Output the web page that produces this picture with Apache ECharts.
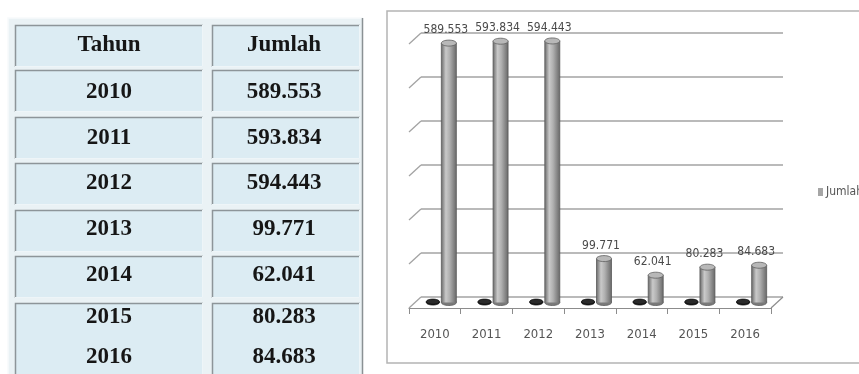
<!DOCTYPE html>
<html>
<head>
<meta charset="utf-8">
<script src="https://cdn.jsdelivr.net/npm/echarts@6/dist/echarts.min.js"></script>
<style>
  html, body { margin: 0; padding: 0; background: #ffffff; }
  #chart { width: 859px; height: 374px; }
</style>
</head>
<body>
<div id="chart"></div>
<script>
// ---- data ----
const tableHeaders = ['Tahun', 'Jumlah'];
const years = ['2010', '2011', '2012', '2013', '2014', '2015', '2016'];
const tahunValues = [2010, 2011, 2012, 2013, 2014, 2015, 2016];
const jumlah = [589553, 593834, 594443, 99771, 62041, 80283, 84683];
const yTicks = [0, 100000, 200000, 300000, 400000, 500000, 600000];
const seriesName = 'Jumlah';

function fmt(v) { return String(v).replace(/\B(?=(\d{3})+(?!\d))/g, '.'); }

const chart = echarts.init(document.getElementById('chart'), null, { renderer: 'canvas' });

// ---- table (built from the arrays) ----
const colX = [15, 212], colW = [188, 148];
const rowTops = [25, 70, 117, 163, 210, 256, 303];
const rowH = 42;
const textCY = [45, 92, 138, 183, 229, 275, 317, 357];
const tableFont = 'bold 23px "Liberation Serif", "Times New Roman", serif';
const graphics = [];
// outer frame
graphics.push({ type: 'rect', shape: { x: 8, y: 18, width: 355, height: 380 },
  style: { fill: '#eaf2f5', stroke: null }, z: 0 });
graphics.push({ type: 'polyline', shape: { points: [[8, 380], [8, 18], [363, 18]] }, style: { stroke: '#f7fafb', lineWidth: 1.5, fill: null } });
graphics.push({ type: 'line', shape: { x1: 362.5, y1: 18, x2: 362.5, y2: 380 }, style: { stroke: '#8a9194', lineWidth: 1.5 } });
for (let r = 0; r < rowTops.length; r++) {
  const h = (r === rowTops.length - 1) ? 90 : rowH;
  for (let c = 0; c < 2; c++) {
    const x = colX[c], y = rowTops[r], w = colW[c];
    graphics.push({ type: 'rect', shape: { x: x, y: y, width: w, height: h }, style: { fill: '#dcecf3' }, z: 1 });
    graphics.push({ type: 'polyline', shape: { points: [[x + 0.5, y + h], [x + 0.5, y + 0.5], [x + w, y + 0.5]] },
      style: { stroke: '#8d9599', lineWidth: 1.5, fill: null }, z: 2 });
    graphics.push({ type: 'polyline', shape: { points: [[x + w - 0.5, y], [x + w - 0.5, y + h - 0.5], [x, y + h - 0.5]] },
      style: { stroke: '#eef5f8', lineWidth: 1, fill: null }, z: 2 });
  }
}
const cellCX = [109, 284];
for (let c = 0; c < 2; c++) {
  graphics.push({ type: 'text', x: cellCX[c], y: textCY[0], z: 3,
    style: { text: tableHeaders[c], font: tableFont, fill: '#161616', textAlign: 'center', textVerticalAlign: 'middle' } });
}
for (let i = 0; i < years.length; i++) {
  graphics.push({ type: 'text', x: cellCX[0], y: textCY[i + 1], z: 3,
    style: { text: years[i], font: tableFont, fill: '#161616', textAlign: 'center', textVerticalAlign: 'middle' } });
  graphics.push({ type: 'text', x: cellCX[1], y: textCY[i + 1], z: 3,
    style: { text: fmt(jumlah[i]), font: tableFont, fill: '#161616', textAlign: 'center', textVerticalAlign: 'middle' } });
}
// chart frame
graphics.push({ type: 'rect', shape: { x: 387, y: 11, width: 490, height: 352 },
  style: { fill: null, stroke: '#b4b4b4', lineWidth: 1.5 }, z: 0 });

// ---- 3D geometry ----
const DX = 12, DY = 11;
const backLeft = 421, backTop = 33, plotW = 362, plotH = 264;

function cylinderItem(offset, dark, withLabel) {
  return function (params, api) {
    const i = api.value(0), v = api.value(1);
    const top = api.coord([i, v]);
    const base = api.coord([i, 0]);
    const cx = top[0] + offset;
    const w = dark ? 13 : 15, rx = w / 2, ry = dark ? 2.5 : 3;
    const grad = dark
      ? '#1b1b1b'
      : new echarts.graphic.LinearGradient(0, 0, 1, 0, [
          { offset: 0, color: '#6c6c6c' }, { offset: 0.3, color: '#c9c9c9' },
          { offset: 0.55, color: '#b0b0b0' }, { offset: 1, color: '#6a6a6a' }]);
    const children = [
      { type: 'ellipse', shape: { cx: cx, cy: base[1], rx: rx, ry: ry },
        style: { fill: dark ? '#1b1b1b' : '#7a7a7a', stroke: dark ? '#111' : '#5c5c5c', lineWidth: 0.8 } },
      { type: 'rect', shape: { x: cx - rx, y: top[1], width: w, height: Math.max(0, base[1] - top[1]) },
        style: { fill: grad } },
      { type: 'line', shape: { x1: cx - rx, y1: top[1], x2: cx - rx, y2: base[1] }, style: { stroke: dark ? '#111' : '#5a5a5a', lineWidth: 0.8 } },
      { type: 'line', shape: { x1: cx + rx, y1: top[1], x2: cx + rx, y2: base[1] }, style: { stroke: dark ? '#111' : '#5a5a5a', lineWidth: 0.8 } },
      { type: 'ellipse', shape: { cx: cx, cy: top[1], rx: rx, ry: ry },
        style: { fill: dark ? '#2a2a2a' : '#b8b8b8', stroke: dark ? '#111' : '#5e5e5e', lineWidth: 0.8 } }
    ];
    if (withLabel) {
      children.push({ type: 'text', x: cx - 3, y: top[1] - ry - 4,
        style: { text: fmt(v), textAlign: 'center', textVerticalAlign: 'bottom',
          font: '12px "Liberation Sans Narrow", "DejaVu Sans Condensed", sans-serif', fill: '#4a4a4a' } });
    }
    return { type: 'group', children: children };
  };
}

const option = {
  backgroundColor: '#ffffff',
  animation: false,
  graphic: graphics,
  legend: {
    data: [seriesName], left: 813, top: 181, icon: 'rect', itemWidth: 5, itemHeight: 8, itemGap: 4,
    textStyle: { fontSize: 12, color: '#555', fontFamily: '"Liberation Sans Narrow", "DejaVu Sans Condensed", sans-serif', padding: [0, 0, 0, -2] }
  },
  grid: [
    { left: backLeft, top: backTop, width: plotW, height: plotH },
    { left: backLeft - DX / 2, top: backTop + DY / 2, width: plotW, height: plotH },
    { left: backLeft - DX, top: backTop + DY, width: plotW, height: plotH }
  ],
  xAxis: [
    { gridIndex: 0, type: 'category', data: years, show: false },
    { gridIndex: 1, type: 'category', data: years, show: false },
    { gridIndex: 2, type: 'category', data: years,
      axisLine: { show: true, lineStyle: { color: '#8c8c8c', width: 1.2 } },
      axisTick: { show: true, length: 6, lineStyle: { color: '#8c8c8c' } },
      axisLabel: { margin: 20, fontSize: 13, color: '#555',
        fontFamily: '"Liberation Sans Narrow", "DejaVu Sans Condensed", sans-serif' } }
  ],
  yAxis: [
    { gridIndex: 0, type: 'value', min: 0, max: 600000, interval: 100000,
      axisLine: { show: false }, axisTick: { show: false }, axisLabel: { show: false },
      splitLine: { show: true, lineStyle: { color: '#a3a3a3', width: 1.5 } } },
    { gridIndex: 1, type: 'value', min: 0, max: 600000, interval: 100000, show: false, splitLine: { show: false } },
    { gridIndex: 2, type: 'value', min: 0, max: 600000, interval: 100000, show: false, splitLine: { show: false } }
  ],
  series: [
    { type: 'custom', name: 'wall', xAxisIndex: 0, yAxisIndex: 0, silent: true, z: 1,
      data: yTicks.map(v => [0, v]),
      renderItem: function (params, api) {
        const v = api.value(1);
        const c = api.coord([0, v]);
        const bw = api.size([1, 0])[0];
        const xl = c[0] - bw / 2;
        const ch = [{ type: 'line', shape: { x1: xl, y1: c[1], x2: xl - DX, y2: c[1] + DY },
          style: { stroke: '#a3a3a3', lineWidth: 1.3 } }];
        if (v === 0) {
          const r = api.coord([years.length - 1, 0]);
          const xr = r[0] + bw / 2;
          ch.push({ type: 'line', shape: { x1: xr, y1: r[1], x2: xr - DX, y2: r[1] + DY },
            style: { stroke: '#8c8c8c', lineWidth: 1.2 } });
        }
        return { type: 'group', children: ch };
      }
    },
    { type: 'custom', name: 'Tahun', xAxisIndex: 1, yAxisIndex: 1, z: 3,
      data: tahunValues.map((v, i) => [i, v]), itemStyle: { color: '#1b1b1b' },
      renderItem: cylinderItem(-8, true, false) },
    { type: 'custom', name: seriesName, xAxisIndex: 1, yAxisIndex: 1, z: 4,
      data: jumlah.map((v, i) => [i, v]), itemStyle: { color: '#a6a6a6' },
      renderItem: cylinderItem(8, false, true) }
  ]
};
chart.setOption(option);
</script>
</body>
</html>
